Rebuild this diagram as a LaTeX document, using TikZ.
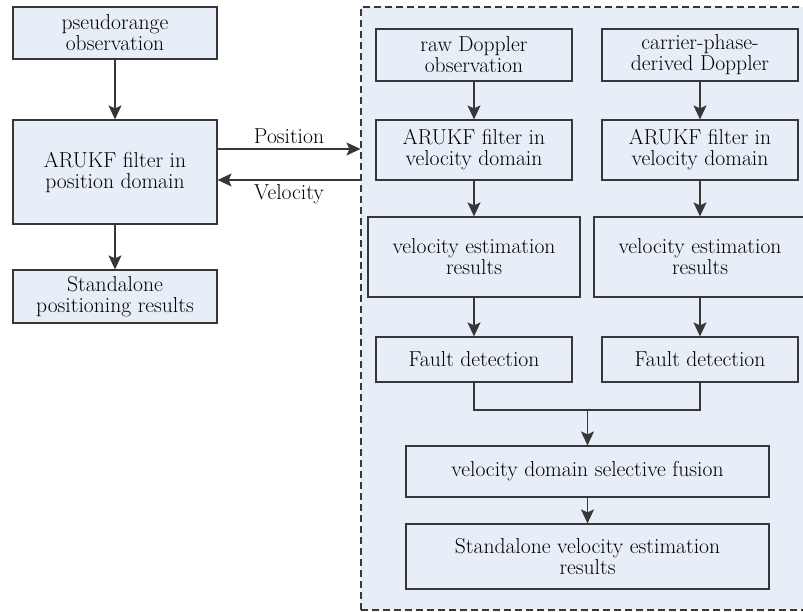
\documentclass[tikz,border=0pt]{standalone}
\usepackage{fontspec}
\usetikzlibrary{arrows.meta}
\definecolor{boxfill}{RGB}{232,238,247}
\definecolor{linegray}{RGB}{55,55,55}

\begin{document}
\begin{tikzpicture}[x=1pt, y=-1pt,
	box/.style={draw=linegray, line width=1.2pt, fill=boxfill, align=center,
		inner sep=0pt, font=\fontsize{21.6}{21}\selectfont},
	flow/.style={draw=linegray, line width=1.2pt, -{Stealth[length=14pt,width=13pt,inset=3pt]}},
	lbl/.style={font=\fontsize{21.6}{21}\selectfont}]

	\useasboundingbox (0,0) rectangle (803,612);

	\node[draw=linegray, dash pattern=on 7pt off 4pt, line width=1.1pt, fill=boxfill, minimum width=451pt, minimum height=603pt] (vdom) at (586.5,308.5) {};

	\node[box, minimum width=204pt, minimum height=52pt] (pseudo) at (115,33) {pseudorange\\observation};
	\node[box, minimum width=204pt, minimum height=104pt] (arpos) at (115,172) {ARUKF filter in\\position domain};
	\node[box, minimum width=204pt, minimum height=53pt] (stdpos) at (115,296.5) {Standalone\\positioning results};

	\node[box, minimum width=196pt, minimum height=52pt] (rawdop) at (474,55) {raw Doppler\\observation};
	\node[box, minimum width=196pt, minimum height=52pt] (cardop) at (700,55) {carrier-phase-\\derived Doppler};

	\node[box, minimum width=196pt, minimum height=60pt] (arvel) at (474,150) {ARUKF filter in\\velocity domain};
	\node[box, minimum width=196pt, minimum height=60pt] (arvelc) at (700,150) {ARUKF filter in\\velocity domain};

	\node[box, minimum width=212pt, minimum height=80pt] (vest) at (474,257) {velocity estimation\\results};
	\node[box, minimum width=212pt, minimum height=80pt] (vestc) at (700,257) {velocity estimation\\results};

	\node[box, minimum width=196pt, minimum height=45pt] (fault) at (474,359.5) {Fault detection};
	\node[box, minimum width=196pt, minimum height=45pt] (faultc) at (700,359.5) {Fault detection};

	\node[box, minimum width=363pt, minimum height=51pt] (fusion) at (587.5,471.5) {velocity domain selective fusion};
	\node[box, minimum width=363pt, minimum height=65pt] (stdvel) at (587.5,556.5) {Standalone velocity estimation\\results};

	\coordinate (merge) at (587.5,410);

	\draw[flow] (pseudo) -- (arpos);
	\draw[flow] (arpos) -- (stdpos);

	\draw[flow] ([yshift=23pt]arpos.east) -- ([yshift=23pt]arpos.east -| vdom.west)
		node[lbl, midway, above=1pt] (poslbl) {Position};
	\draw[flow] ([yshift=-8pt]arpos.east -| vdom.west) -- ([yshift=-8pt]arpos.east)
		node[lbl, midway, below=1pt] (vellbl) {Velocity};

	\draw[flow] (rawdop) -- (arvel);
	\draw[flow] (arvel) -- (vest);
	\draw[flow] (vest) -- (fault);
	\draw[flow] (cardop) -- (arvelc);
	\draw[flow] (arvelc) -- (vestc);
	\draw[flow] (vestc) -- (faultc);

	\draw[draw=linegray, line width=1.2pt] (fault.south) |- (merge) -| (faultc.south);
	\draw[flow] (merge) -- (fusion);
	\draw[flow] (fusion) -- (stdvel);
\end{tikzpicture}
\end{document}
